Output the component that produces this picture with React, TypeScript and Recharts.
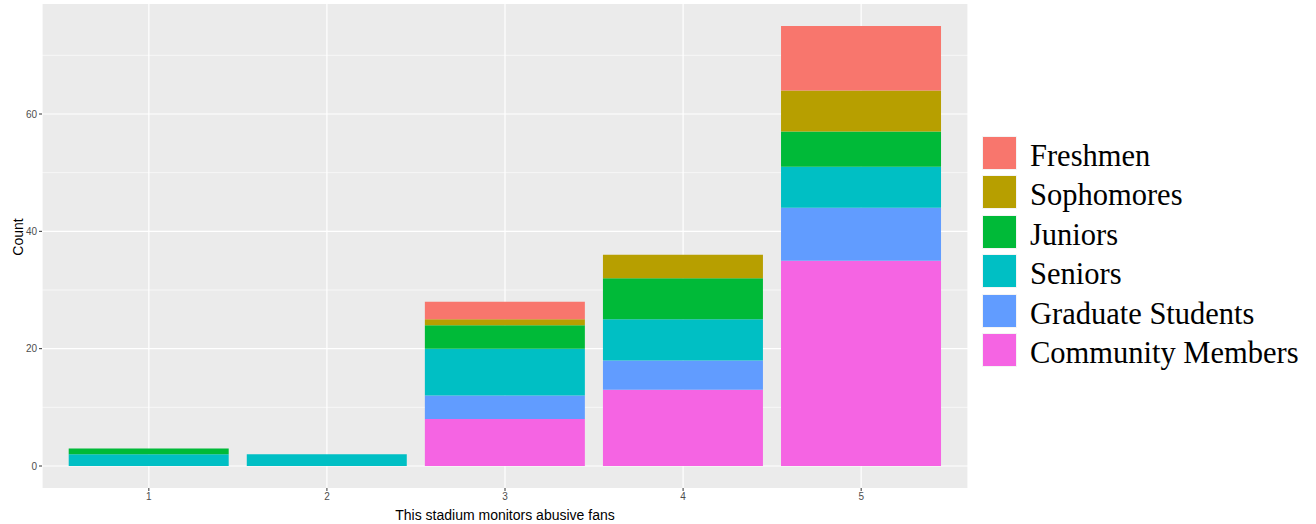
import { BarChart, Bar, XAxis, YAxis, CartesianGrid } from "recharts";

const levels = ["1", "2", "3", "4", "5"];

const freshmen = [0, 0, 3, 0, 11];
const sophomores = [0, 0, 1, 4, 7];
const juniors = [1, 0, 4, 7, 6];
const seniors = [2, 2, 8, 7, 7];
const gradStudents = [0, 0, 4, 5, 9];
const community = [0, 0, 8, 13, 35];

const yTicks = [0, 20, 40, 60];
const yMinor = [10, 30, 50, 70];

// bottom of the stack first
const SERIES = [
  { key: "community", name: "Community Members", color: "#F564E3", values: community },
  { key: "grad", name: "Graduate Students", color: "#619CFF", values: gradStudents },
  { key: "seniors", name: "Seniors", color: "#00BFC4", values: seniors },
  { key: "juniors", name: "Juniors", color: "#00BA38", values: juniors },
  { key: "sophomores", name: "Sophomores", color: "#B79F00", values: sophomores },
  { key: "freshmen", name: "Freshmen", color: "#F8766D", values: freshmen },
];

const data = levels.map((level, i) => {
  const row: Record<string, string | number> = { level };
  SERIES.forEach((s) => {
    row[s.key] = s.values[i];
  });
  return row;
});

const SANS = "'Liberation Sans', Arial, sans-serif";

function LegendBox() {
  return (
    <div
      style={{
        position: "absolute",
        left: 982,
        top: 133,
        fontFamily: "'Liberation Serif', 'Times New Roman', serif",
      }}
    >
      {[...SERIES].reverse().map((s) => (
        <div
          key={s.key}
          style={{ display: "flex", alignItems: "center", height: 39.5 }}
        >
          <div
            style={{
              width: 35,
              height: 34,
              background: s.color,
              boxSizing: "border-box",
              border: "1px solid #f4f4f4",
            }}
          />
          <span
            style={{
              marginLeft: 13,
              fontSize: 30.5,
              lineHeight: "34px",
              color: "#000",
              position: "relative",
              top: 3,
              whiteSpace: "nowrap",
            }}
          >
            {s.name}
          </span>
        </div>
      ))}
    </div>
  );
}

function CountLabel(props: any) {
  const vb = props.viewBox || {};
  const cx = 23;
  const cy = (vb.y ?? 0) + (vb.height ?? 0) / 2 - 9;
  return (
    <text
      x={cx}
      y={cy}
      transform={`rotate(-90, ${cx}, ${cy})`}
      textAnchor="middle"
      fontSize={14}
      fontFamily={SANS}
      fill="#000"
    >
      Count
    </text>
  );
}

export default function App() {
  return (
    <div style={{ position: "relative", width: 1316, height: 524, background: "#fff" }}>
      <style>{"body{margin:0}"}</style>
      <BarChart
        width={1316}
        height={524}
        data={data}
        margin={{ top: 4, right: 348, bottom: 0, left: 0 }}
        barCategoryGap="5%"
      >
        <CartesianGrid
          fill="#EBEBEB"
          stroke="#FFFFFF"
          strokeWidth={0.6}
          horizontalValues={yMinor}
          vertical={false}
        />
        <CartesianGrid
          stroke="#FFFFFF"
          strokeWidth={1.2}
          horizontalValues={yTicks}
        />
        <XAxis
          dataKey="level"
          padding={{ left: 17.8, right: 17.8 }}
          axisLine={false}
          tickLine={{ stroke: "#333333" }}
          tickSize={3}
          tick={{ fontSize: 10, fill: "#4D4D4D", fontFamily: SANS }}
          height={36}
          label={{
            value: "This stadium monitors abusive fans",
            position: "insideBottom",
            offset: 4,
            fontSize: 14,
            fill: "#000",
            fontFamily: SANS,
          }}
        />
        <YAxis
          type="number"
          domain={[-3.75, 78.75]}
          ticks={yTicks}
          allowDataOverflow
          width={42}
          axisLine={false}
          tickLine={{ stroke: "#333333" }}
          tickSize={3}
          tick={{ fontSize: 10, fill: "#4D4D4D", fontFamily: SANS }}
          label={<CountLabel />}
        />
        {SERIES.map((s) => (
          <Bar
            key={s.key}
            dataKey={s.key}
            name={s.name}
            stackId="count"
            fill={s.color}
            isAnimationActive={false}
          />
        ))}
      </BarChart>
      <LegendBox />
    </div>
  );
}
